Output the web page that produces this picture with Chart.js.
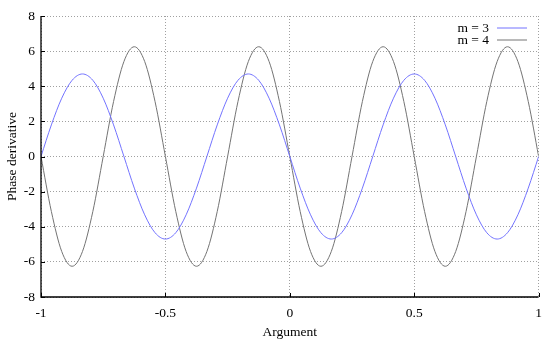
<!DOCTYPE html>
<html lang="en">
<head>
  <meta charset="UTF-8">
  <title>Phase derivative</title>
  <script src="https://cdn.jsdelivr.net/npm/chart.js"></script>
  <style>
    body { margin: 0; background: #fff; }
    #wrap { width: 550px; height: 345px; }
  </style>
</head>
<body>
  <div id="wrap"><canvas id="phaseChart"></canvas></div>
  <script>
    // x sampled every 1/24 from -1 to 1
    const argument = [];
    for (let k = -24; k <= 24; k++) argument.push(k / 24);

    const m3 = [
      0, 1.80, 3.32, 4.34, 4.7, 4.34, 3.32, 1.80,
      0, -1.80, -3.32, -4.34, -4.7, -4.34, -3.32, -1.80,
      0, 1.80, 3.32, 4.34, 4.7, 4.34, 3.32, 1.80,
      0, -1.80, -3.32, -4.34, -4.7, -4.34, -3.32, -1.80,
      0, 1.80, 3.32, 4.34, 4.7, 4.34, 3.32, 1.80,
      0, -1.80, -3.32, -4.34, -4.7, -4.34, -3.32, -1.80,
      0
    ];
    const m4 = [
      0, -3.13, -5.41, -6.25, -5.41, -3.13, 0, 3.13, 5.41, 6.25, 5.41, 3.13,
      0, -3.13, -5.41, -6.25, -5.41, -3.13, 0, 3.13, 5.41, 6.25, 5.41, 3.13,
      0, -3.13, -5.41, -6.25, -5.41, -3.13, 0, 3.13, 5.41, 6.25, 5.41, 3.13,
      0, -3.13, -5.41, -6.25, -5.41, -3.13, 0, 3.13, 5.41, 6.25, 5.41, 3.13,
      0
    ];
    const seriesLabels = ['m = 3', 'm = 4'];
    const xTicks = [-1, -0.5, 0, 0.5, 1];
    const yTicks = [-8, -6, -4, -2, 0, 2, 4, 6, 8];

    const FONT = "'Liberation Serif', serif";
    const SIZE = 13.5;

    // gnuplot style: left/bottom axis with inward ticks, legend with sample on the right
    const gnuplotLook = {
      id: 'gnuplotLook',
      afterDraw(chart) {
        const ctx = chart.ctx;
        const a = chart.chartArea;
        const xs = chart.scales.x, ys = chart.scales.y;
        ctx.save();
        ctx.strokeStyle = '#000';
        ctx.lineWidth = 1.3;
        ctx.beginPath();
        ctx.moveTo(a.left, a.top);
        ctx.lineTo(a.left, a.bottom);
        ctx.lineTo(a.right, a.bottom);
        ctx.stroke();
        ctx.lineWidth = 1;
        ctx.beginPath();
        yTicks.forEach(v => {
          const y = Math.round(ys.getPixelForValue(v)) + 0.5;
          ctx.moveTo(a.left, y); ctx.lineTo(a.left + 4, y);
        });
        xTicks.forEach(v => {
          const x = Math.round(xs.getPixelForValue(v)) + 0.5;
          ctx.moveTo(x, a.bottom); ctx.lineTo(x, a.bottom - 4);
        });
        ctx.stroke();

        ctx.font = SIZE + 'px ' + FONT;
        ctx.textAlign = 'right';
        ctx.textBaseline = 'middle';
        chart.data.datasets.forEach((ds, i) => {
          const y = 28 + i * 12;
          ctx.fillStyle = '#000';
          ctx.fillText(ds.label, 489, y);
          ctx.strokeStyle = ds.borderColor;
          ctx.lineWidth = 1;
          ctx.beginPath();
          ctx.moveTo(497, y); ctx.lineTo(527, y);
          ctx.stroke();
        });
        ctx.restore();
      }
    };

    new Chart(document.getElementById('phaseChart'), {
      type: 'line',
      data: {
        datasets: [
          {
            label: seriesLabels[0],
            data: argument.map((x, i) => ({ x: x, y: m3[i] })),
            borderColor: '#7373ff',
            borderWidth: 1,
            pointRadius: 0,
            cubicInterpolationMode: 'monotone'
          },
          {
            label: seriesLabels[1],
            data: argument.map((x, i) => ({ x: x, y: m4[i] })),
            borderColor: '#747474',
            borderWidth: 1,
            pointRadius: 0,
            cubicInterpolationMode: 'monotone'
          }
        ]
      },
      options: {
        responsive: true,
        maintainAspectRatio: false,
        animation: false,
        layout: { padding: { top: 16, right: 11, left: 0, bottom: 0 } },
        plugins: { legend: { display: false }, tooltip: { enabled: false } },
        scales: {
          x: {
            type: 'linear',
            min: -1, max: 1,
            afterBuildTicks: s => { s.ticks = xTicks.map(v => ({ value: v })); },
            afterFit: s => { s.height = 48; },
            grid: { color: '#a0a0a0', drawTicks: false },
            border: { display: false, dash: [1, 2] },
            ticks: { color: '#000', padding: 8, callback: v => String(v), font: { family: FONT, size: SIZE } },
            title: { display: true, text: 'Argument', color: '#000', padding: { top: 2 }, font: { family: FONT, size: SIZE } }
          },
          y: {
            min: -8, max: 8,
            afterBuildTicks: s => { s.ticks = yTicks.map(v => ({ value: v })); },
            afterFit: s => { s.width = 41; },
            grid: { color: '#a0a0a0', drawTicks: false },
            border: { display: false, dash: [1, 2] },
            ticks: { color: '#000', padding: 6, callback: v => String(v), font: { family: FONT, size: SIZE } },
            title: { display: true, text: 'Phase derivative', color: '#000', padding: { top: 4, bottom: 0 }, font: { family: FONT, size: SIZE } }
          }
        }
      },
      plugins: [gnuplotLook]
    });
  </script>
</body>
</html>
